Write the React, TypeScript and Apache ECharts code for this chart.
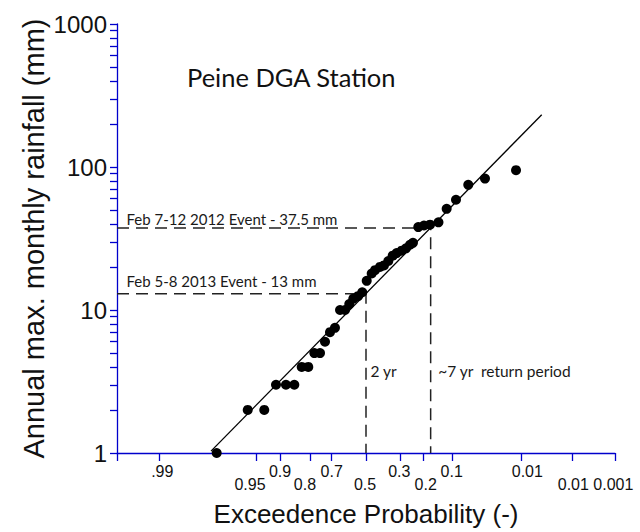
import React, { useEffect, useRef } from "react";
import * as echarts from "echarts";

// X axis is in standard normal variate units (probability-paper scale), Y is log10 rainfall.
const X_MIN = -2.8;
const X_MAX = 2.8;
const Y_MIN = 1;
const Y_MAX = 1000;

const xTickValues = [-2.8, -2.327, -1.232, -0.969, -0.63, -0.394, 0, 0.39, 0.642, 0.97, 1.751, 2.323, 2.8];
// Probability labels are staggered on two rows (plus one extra upper label)
const xUpperLabelValues = [-2.291, -0.967, -0.386, 0.374, 0.964];
const xUpperLabelTexts = [".99", "0.9", "0.7", "0.3", "0.1"];
const xUpperExtraValues = [1.814];
const xUpperExtraTexts = ["0.01"];
const xLowerLabelValues = [-1.304, -0.686, -0.011, 0.671, 2.331, 2.781];
const xLowerLabelTexts = ["0.95", "0.8", "0.5", "0.2", "0.01", "0.001"];

const yTickValues = [
  1, 2, 3, 4, 5, 6, 7, 8, 9,
  10, 20, 30, 40, 50, 60, 70, 80, 90,
  100, 200, 300, 400, 500, 600, 700, 800, 900, 1000,
];
const yLabelValues = [1, 10, 100, 1000];

// Observed annual maxima: plotting position (normal variate) and rainfall (mm)
const obsZ = [
  -1.679, -1.33, -1.144, -1.012, -0.9, -0.806, -0.723, -0.649, -0.581, -0.517,
  -0.461, -0.405, -0.349, -0.292, -0.236, -0.188, -0.143, -0.09, -0.042, 0.008,
  0.064, 0.101, 0.157, 0.202, 0.251, 0.3, 0.345, 0.401, 0.45, 0.495,
  0.528, 0.588, 0.652, 0.72, 0.815, 0.907, 1.012, 1.15, 1.338, 1.687,
];
const obsRain = [
  1, 2, 2, 3, 3, 3, 4, 4, 5, 5,
  6, 7, 7.5, 10, 10, 11, 12, 12.5, 13.3, 16,
  18, 19, 20, 20.5, 22, 24, 25, 26, 27, 28.6,
  29.5, 38, 39, 39.5, 41, 51, 59, 75, 83, 95,
];

// Fitted distribution line (two end points)
const fitZ = [-1.743, 1.976];
const fitRain = [1.03, 232];

// Highlighted events
const eventRain = [37.5, 13];
const eventZ = [0.727, 0];
const eventLabels = ["Feb 7-12 2012 Event - 37.5 mm", "Feb 5-8 2013 Event - 13 mm"];
const periodLabels = ["~7 yr  return period", "2 yr"];
const eventLabelOffsetY = [-9, -13];
const periodLabelOffsetX = [2, -1];

const BLUE = "#0000CC";
const ANNOT_FONT = "Lato";
const AXIS_FONT = "'Liberation Sans', Arial, sans-serif";
const UPPER_MARGIN = 10;
const LOWER_MARGIN = 23;

function pickIndex(values: number[], v: number) {
  let idx = 0;
  let best = Infinity;
  values.forEach((lv, i) => {
    const d = Math.abs(lv - v);
    if (d < best) {
      best = d;
      idx = i;
    }
  });
  return idx;
}

export default function App() {
  const ref = useRef<HTMLDivElement>(null);

  useEffect(() => {
    document.body.style.margin = "0";
    if (!ref.current) return;
    const chart = echarts.init(ref.current, undefined, { renderer: "svg" });

    const eventSeries = eventRain.map((r, i) => ({
      type: "line",
      name: "event" + i,
      z: 2,
      symbol: "circle",
      symbolSize: 1,
      showSymbol: true,
      itemStyle: { color: "rgba(0,0,0,0)" },
      lineStyle: { color: "#222", width: 1.5, type: [12, 7] },
      label: { show: false },
      emphasis: { disabled: true },
      data: [
        {
          value: [X_MIN, r],
          label: {
            show: true,
            position: "right",
            distance: 5,
            offset: [4, eventLabelOffsetY[i]],
            formatter: eventLabels[i],
            fontFamily: ANNOT_FONT,
            fontSize: 15,
            color: "#1a1a1a",
          },
        },
        [eventZ[i], r],
        {
          value: [eventZ[i], Y_MIN],
          label: {
            show: true,
            position: "right",
            distance: 5,
            offset: [periodLabelOffsetX[i], -82],
            formatter: periodLabels[i],
            fontFamily: ANNOT_FONT,
            fontSize: 15.5,
            color: "#1a1a1a",
          },
        },
      ],
    }));

    const baseLabel = {
      show: true,
      hideOverlap: false,
      showMinLabel: true,
      showMaxLabel: true,
      fontFamily: AXIS_FONT,
      fontSize: 16,
      lineHeight: 16,
      verticalAlign: "top",
      color: "#111",
    };

    const hiddenAxisParts = {
      axisLine: { show: false, onZero: false },
      axisTick: { show: false },
      splitLine: { show: false },
    };

    const option: any = {
      animation: false,
      backgroundColor: "#ffffff",
      title: {
        text: "Peine DGA Station",
        left: 187,
        top: 64,
        padding: 0,
        textStyle: {
          fontFamily: ANNOT_FONT,
          fontSize: 25.5,
          lineHeight: 26,
          fontWeight: "normal",
          color: "#111",
        },
      },
      grid: { left: 117, right: 25, top: 24, bottom: 77, containLabel: false },
      xAxis: [
        {
          type: "value",
          position: "bottom",
          min: X_MIN,
          max: X_MAX,
          axisLine: { show: true, onZero: false, lineStyle: { color: BLUE, width: 1.3 } },
          axisTick: {
            show: true,
            inside: false,
            length: 8,
            customValues: xTickValues,
            lineStyle: { color: BLUE, width: 1.3 },
          },
          axisLabel: {
            ...baseLabel,
            margin: UPPER_MARGIN,
            customValues: xUpperLabelValues,
            formatter: (v: number) => xUpperLabelTexts[pickIndex(xUpperLabelValues, v)],
          },
          splitLine: { show: false },
        },
        {
          type: "value",
          position: "bottom",
          min: X_MIN,
          max: X_MAX,
          ...hiddenAxisParts,
          axisLabel: {
            ...baseLabel,
            margin: LOWER_MARGIN,
            customValues: xLowerLabelValues,
            formatter: (v: number) => xLowerLabelTexts[pickIndex(xLowerLabelValues, v)],
          },
        },
        {
          type: "value",
          position: "bottom",
          min: X_MIN,
          max: X_MAX,
          ...hiddenAxisParts,
          axisLabel: { show: false },
          name: "Exceedence Probability (-)",
          nameLocation: "middle",
          nameGap: 48,
          nameMoveOverlap: false,
          nameTextStyle: { fontFamily: AXIS_FONT, fontSize: 26, color: "#111" },
        },
      ],
      yAxis: {
        type: "log",
        logBase: 10,
        min: Y_MIN,
        max: Y_MAX,
        name: "Annual max. monthly rainfall (mm)",
        nameLocation: "middle",
        nameGap: 69,
        nameRotate: 90,
        nameMoveOverlap: false,
        nameTextStyle: { fontFamily: AXIS_FONT, fontSize: 29, color: "#111" },
        axisLine: { show: true, onZero: false, lineStyle: { color: BLUE, width: 1.3 } },
        axisTick: {
          show: true,
          inside: false,
          length: 7,
          customValues: yTickValues,
          lineStyle: { color: BLUE, width: 1.3 },
        },
        axisLabel: {
          show: true,
          customValues: yLabelValues,
          formatter: (v: number) => String(Math.round(v)),
          fontFamily: AXIS_FONT,
          fontSize: 24,
          margin: 10,
          color: "#111",
        },
        splitLine: { show: false },
        minorTick: { show: false },
      },
      series: [
        ...eventSeries,
        {
          type: "line",
          name: "fit",
          z: 3,
          symbol: "none",
          lineStyle: { color: "#000", width: 1.3 },
          emphasis: { disabled: true },
          data: fitZ.map((z, i) => [z, fitRain[i]]),
        },
        {
          type: "scatter",
          name: "observed",
          z: 4,
          symbol: "circle",
          symbolSize: 10,
          itemStyle: { color: "#000", opacity: 1 },
          emphasis: { disabled: true },
          data: obsZ.map((z, i) => [z, obsRain[i]]),
        },
        {
          // extra upper-row probability label, positioned through the axis scale
          type: "custom",
          name: "extraLabel",
          coordinateSystem: "cartesian2d",
          clip: false,
          silent: true,
          z: 10,
          data: xUpperExtraValues.map((v) => [v, Y_MIN]),
          renderItem: (params: any, api: any) => {
            const p = api.coord([api.value(0), api.value(1)]);
            return {
              type: "text",
              x: p[0],
              y: p[1] + UPPER_MARGIN,
              silent: true,
              style: {
                text: xUpperExtraTexts[params.dataIndex],
                fill: "#111",
                fontFamily: "Liberation Sans",
                fontSize: 16,
                lineHeight: 16,
                align: "center",
                verticalAlign: "top",
              },
            };
          },
        },
      ],
    };

    chart.setOption(option);
    return () => chart.dispose();
  }, []);

  return <div ref={ref} style={{ width: 640, height: 532 }} />;
}
